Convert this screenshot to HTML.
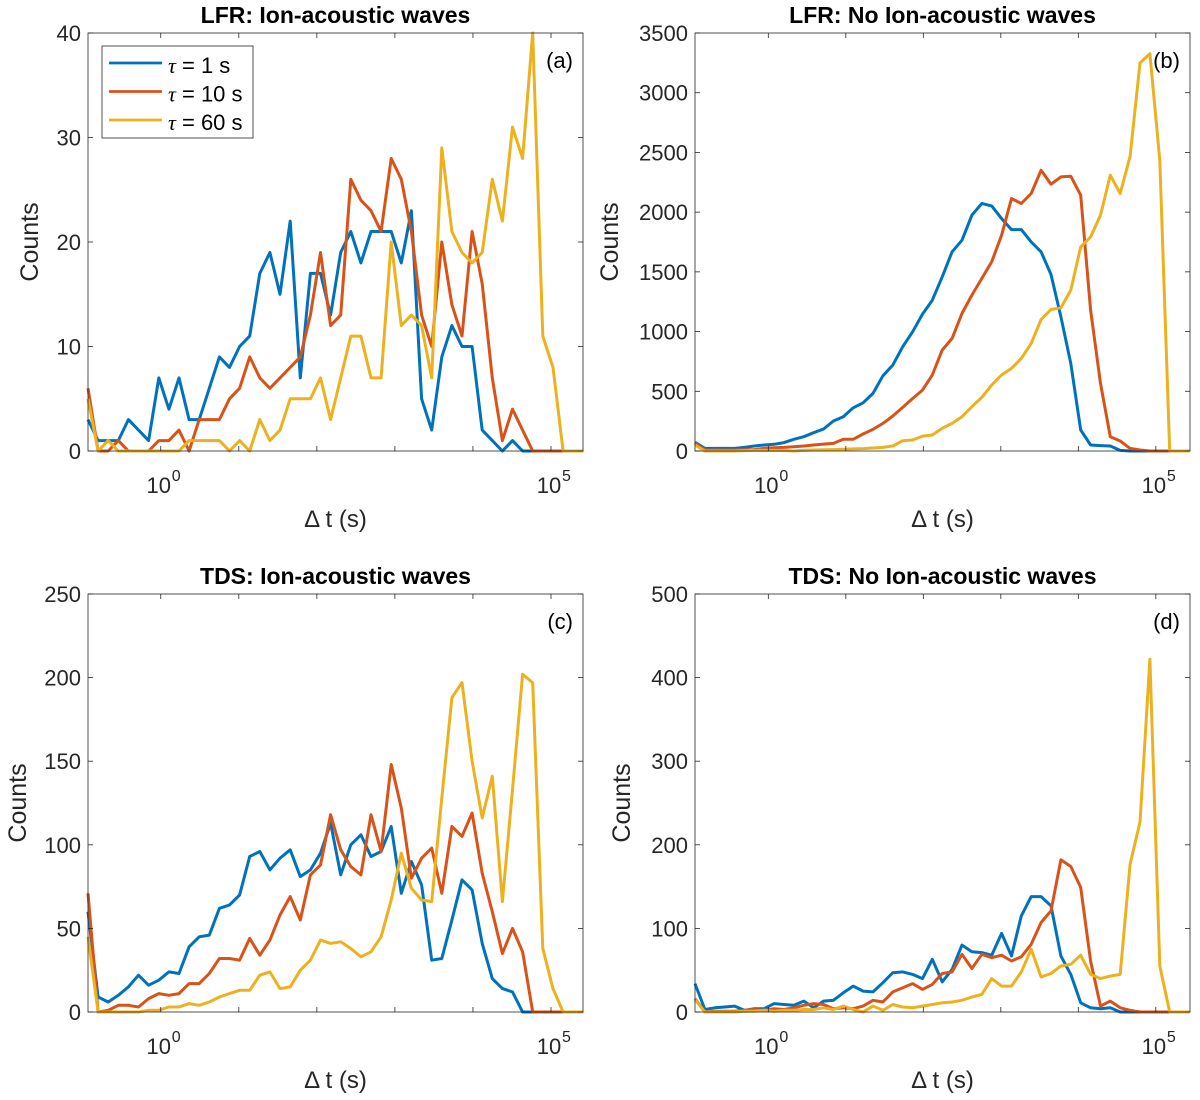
<!DOCTYPE html>
<html><head><meta charset="utf-8">
<style>
html,body{margin:0;padding:0;background:#fff;}
svg{display:block;font-family:"Liberation Sans",Arial,sans-serif;}
</style></head>
<body>
<svg id="fig" width="1200" height="1100" viewBox="0 0 1200 1100"></svg>
<script>
// ---- data ----
const aBlue=[3,1,1,1,3,2,1,7,4,7,3,3,6,9,8,10,11,17,19,15,22,7,17,17,13,19,21,18,21,21,21,18,23,5,2,9,12,10,10,2,1,0,1,0,0,0,0,0,0,0];
const aRed=[6,0,0,1,0,0,0,1,1,2,0,3,3,3,5,6,9,7,6,7,8,9,13,19,12,13,26,24,23,21,28,26,21,13,10,20,14,11,21,16,7,1,4,2,0,0,0,0,0,0];
const aYellow=[5,0,1,0,0,0,0,0,0,0,1,1,1,1,0,1,0,3,1,2,5,5,5,7,3,7,11,11,7,7,20,12,13,12,7,29,21,19,18,19,26,22,31,28,40,11,8,0,0,0];
const bBlue=[73,22,22,22,22,30,42,50,56,70,98,120,153,184,251,287,362,404,482,630,719,873,998,1146,1263,1458,1668,1765,1974,2072,2052,1946,1854,1854,1751,1668,1478,1124,733,176,50,45,42,5,0,0,0,0,0,0,0];
const bRed=[64,8,8,8,8,10,12,22,28,30,36,42,50,58,64,98,98,142,181,231,293,365,440,510,636,845,943,1152,1305,1444,1584,1807,2114,2072,2156,2351,2234,2295,2301,2142,1180,566,120,84,22,8,0,0,0,0,0];
const bYellow=[50,0,0,0,0,3,5,5,5,5,0,5,8,10,12,15,18,20,25,30,42,86,92,125,134,190,231,287,371,449,552,636,692,775,901,1101,1185,1199,1347,1709,1793,1974,2309,2156,2468,3249,3327,2434,0,0,0];
const cBlue=[60,9,6,10,15,22,16,19,24,23,39,45,46,62,64,70,93,96,85,92,97,81,85,95,113,82,100,106,93,96,111,71,90,76,31,32,55,79,73,41,20,14,12,0,0,0,0,0,0,0];
const cRed=[71,0,1,4,4,3,8,11,10,11,17,17,23,32,32,31,44,34,43,58,69,55,82,88,118,97,87,82,118,96,148,122,80,92,98,71,111,105,119,83,60,35,50,36,0,0,0,0,0,0];
const cYellow=[45,0,0,0,0,0,1,1,3,3,5,4,6,9,11,13,13,22,24,14,15,25,31,43,41,42,38,33,36,45,67,95,74,67,66,128,188,197,150,116,141,66,133,202,197,38,14,0,0,0];
const dBlue=[34,3,5,6,7,2,4,4,10,9,8,13,5,13,14,23,31,25,24,35,47,48,45,40,63,36,51,80,72,71,68,94,67,115,138,138,127,67,45,11,5,4,5,0,0,0,0,0,0,0,0];
const dRed=[16,0,1,1,1,2,3,2,4,3,5,8,10,9,4,5,4,7,14,12,24,29,34,27,33,46,48,69,52,69,65,68,61,66,81,107,121,182,174,149,61,7,13,5,2,0,0,0,0,0,0];
const dYellow=[15,0,0,0,0,1,1,2,1,2,2,3,3,5,3,7,3,0,7,2,9,6,5,7,9,11,12,14,18,21,40,31,31,48,75,42,46,55,57,68,45,40,43,45,177,227,422,55,0,0,0];
const aYTicks=[0,10,20,30,40];
const bYTicks=[0,500,1000,1500,2000,2500,3000,3500];
const cYTicks=[0,50,100,150,200,250];
const dYTicks=[0,100,200,300,400,500];
const xTickDecades=[0,1,2,3,4,5];
const xLabelDecades=[0,5];

const NS="http://www.w3.org/2000/svg";
const svg=document.getElementById('fig');
const COLORS=['#0072BD','#D95319','#EDB120'];
function mk(tag,attrs,parent){const e=document.createElementNS(NS,tag);for(const k in attrs)e.setAttribute(k,attrs[k]);(parent||svg).appendChild(e);return e;}

function panel(o){
  const g=mk('g',{});
  
  
  const L=o.left,R=o.right,T=o.top,B=o.bottom;
  const xs=v=>L+(v-o.xmin)/(o.xmax-o.xmin)*(R-L);
  const ys=v=>B-(v/o.ymax)*(B-T);
  o.series.forEach((s,si)=>{
    const pts=s.map((v,i)=>xs(o.binStart+i*o.binStep).toFixed(1)+','+ys(v).toFixed(1)).join(' ');
    const pl=mk('polyline',{points:pts,fill:'none',stroke:COLORS[si],'stroke-width':3,'stroke-linejoin':'round'},g);
    
    
  });
  const box=mk('rect',{x:L,y:T,width:R-L,height:B-T,fill:'none',stroke:'#262626','stroke-width':0.8},g);
  
  
  o.yticks.forEach(t=>{
    const y=ys(t);
    mk('line',{x1:L,x2:L+5,y1:y,y2:y,stroke:'#262626','stroke-width':0.8},g);
    mk('line',{x1:R,x2:R-5,y1:y,y2:y,stroke:'#262626','stroke-width':0.8},g);
    const tx=mk('text',{x:L-7,y:y+8,'text-anchor':'end','font-size':22,fill:'#262626'},g);
    tx.textContent=t;
    
    
  });
  xTickDecades.forEach(d=>{
    const x=xs(d);
    mk('line',{x1:x,x2:x,y1:B,y2:B-5,stroke:'#262626','stroke-width':0.8},g);
    mk('line',{x1:x,x2:x,y1:T,y2:T+5,stroke:'#262626','stroke-width':0.8},g);
  });
  xLabelDecades.forEach(d=>{
    const x=xs(d);
    const tx=mk('text',{x:x-2,y:B+42,'text-anchor':'middle','font-size':22,fill:'#262626'},g);
    tx.textContent='10';
    
    
    const sp=mk('text',{x:x+11,y:B+30,'font-size':16,fill:'#262626'},g);
    sp.textContent=String(d);
    
    
  });
  const xl=mk('text',{x:(L+R)/2,y:B+76,'text-anchor':'middle','font-size':24,fill:'#262626'},g);
  xl.textContent='\u0394 t (s)';
  
  
  const yl=mk('text',{x:0,y:0,'text-anchor':'middle','font-size':25,fill:'#262626',transform:`translate(${o.ylabelX},${(T+B)/2}) rotate(-90)`},g);
  yl.textContent='Counts';
  
  
  const ti=mk('text',{x:(L+R)/2,y:T-10,'text-anchor':'middle','font-size':23,'font-weight':'bold',fill:'#000'},g);
  ti.textContent=o.title;
  
  
  const pl=mk('text',{x:R-10,y:T+35,'text-anchor':'end','font-size':22,fill:'#000'},g);
  pl.textContent='('+o.id+')';
  
  
}

const leftBins={binStart:-0.932,binStep:0.1295,xmin:-0.932,xmax:5.41};
const rightBins={binStart:-0.946,binStep:0.1276,xmin:-0.946,xmax:5.441};
panel(Object.assign({id:'a',title:'LFR: Ion-acoustic waves',left:88,right:583,top:33,bottom:451,ymax:40,yticks:aYTicks,series:[aBlue,aRed,aYellow],ylabelX:38},leftBins));
panel(Object.assign({id:'b',title:'LFR: No Ion-acoustic waves',left:695,right:1190,top:33,bottom:451,ymax:3500,yticks:bYTicks,series:[bBlue,bRed,bYellow],ylabelX:618},rightBins));
panel(Object.assign({id:'c',title:'TDS: Ion-acoustic waves',left:88,right:583,top:594,bottom:1012,ymax:250,yticks:cYTicks,series:[cBlue,cRed,cYellow],ylabelX:26},leftBins));
panel(Object.assign({id:'d',title:'TDS: No Ion-acoustic waves',left:695,right:1190,top:594,bottom:1012,ymax:500,yticks:dYTicks,series:[dBlue,dRed,dYellow],ylabelX:630},rightBins));

const lg=mk('g',{});


mk('rect',{x:102,y:46,width:151,height:92,fill:'#fff',stroke:'#262626','stroke-width':0.8},lg);
const legendLabels=['1 s','10 s','60 s'];
legendLabels.forEach((t,i)=>{
  const y=66+i*28.5;
  const ln=mk('line',{x1:109,x2:162,y1:y-3,y2:y-3,stroke:COLORS[i],'stroke-width':2.8},lg);
  
  
  const tx=mk('text',{x:168,y:y+7,'font-size':22,fill:'#000'},lg);
  
  
  const tau=mk('tspan',{'font-family':'"Liberation Serif",serif','font-style':'italic'},tx);
  tau.textContent='\u03C4';
  const rest=mk('tspan',{},tx);
  rest.textContent=' = '+t;
});
</script>
</body></html>
